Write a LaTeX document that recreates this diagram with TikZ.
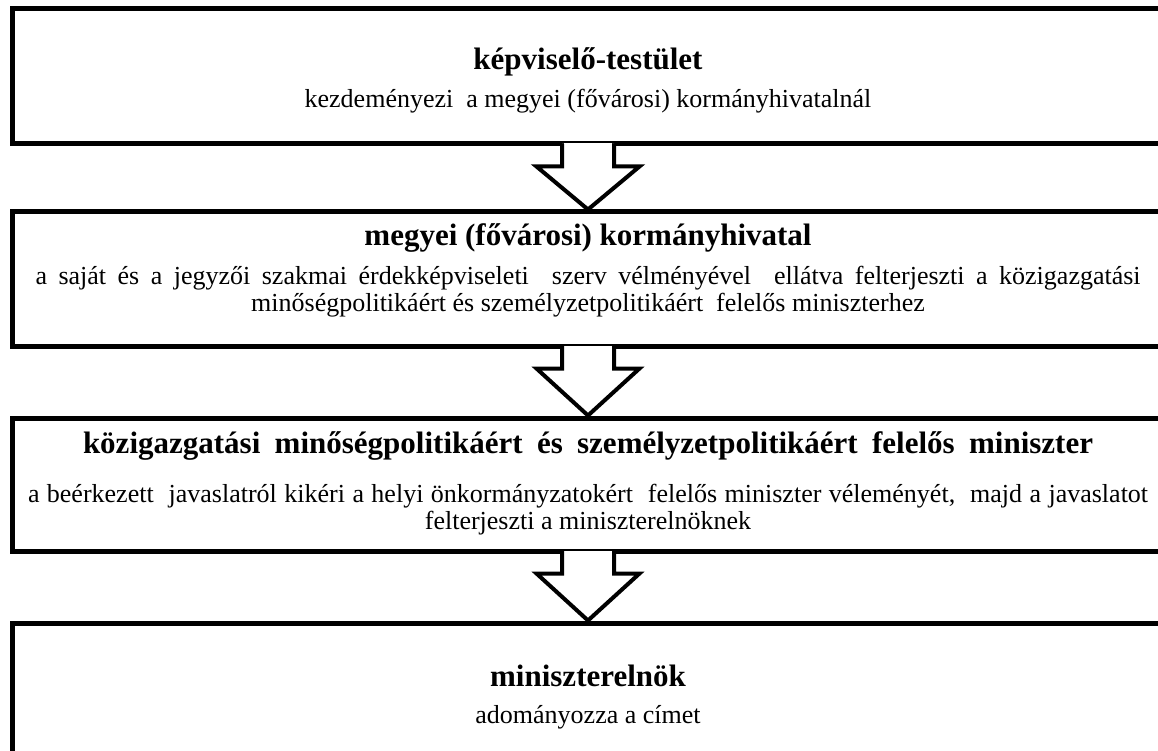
\documentclass[tikz,border=0pt]{standalone}
\usepackage{fontspec}
\setmainfont{Liberation Serif}
\usetikzlibrary{calc}

\tikzset{
  doboz/.style={draw, line width=5pt, minimum width=1152pt, inner sep=0pt},
  cim/.style={font=\bfseries\fontsize{31}{35}\selectfont, anchor=base},
  szoveg/.style={font=\fontsize{26}{27}\selectfont, align=center, anchor=base},
  nyil/.style={draw, line width=4pt, fill=white, line join=miter}
}

\begin{document}
\begin{tikzpicture}[x=1pt, y=-1pt]
\useasboundingbox (0,0) rectangle (1158,751);
\clip (0,0) rectangle (1158,751);

% Dobozok
\node[doboz, minimum height=135pt] (testulet) at (588,76.5) {};
\node[doboz, minimum height=134pt] (hivatal) at (588,279) {};
\node[doboz, minimum height=133pt] (miniszter) at (588,484.5) {};
\node[doboz, minimum height=140pt] (elnok) at (588,693) {};

% Nyilak
\foreach \a/\b in {testulet/hivatal, hivatal/miniszter, miniszter/elnok} {
  \fill[white] ($(\a.south)+(-24,-3)$) rectangle ($(\a.south)+(24,3)$);
  \draw[nyil] ($(\a.south)+(-26,-2.5)$) -- ($(\a.south)+(-26,20)$)
    -- ($(\a.south)+(-51.5,20)$) -- (\b.north)
    -- ($(\a.south)+(51.5,20)$) -- ($(\a.south)+(26,20)$)
    -- ($(\a.south)+(26,-2.5)$);
}

% Szovegek
\node[cim] (c1) at (588,70) {képviselő-testület};
\node[szoveg] (s1) at (588,108) {kezdeményezi\ \ a megyei (fővárosi) kormányhivatalnál};

\node[cim] (c2) at (588,245) {megyei (fővárosi) kormányhivatal};
\node[szoveg] (s2) at (588,311) {\makebox[1105pt][s]{a saját és a jegyzői szakmai érdekképviseleti\ \ szerv vélményével\ \ ellátva felterjeszti a közigazgatási}\\
  minőségpolitikáért és személyzetpolitikáért\ \ felelős miniszterhez};

\node[cim] (c3) at (588,453) {\makebox[1010pt][s]{közigazgatási minőségpolitikáért és személyzetpolitikáért felelős miniszter}};
\node[szoveg] (s3) at (588,529) {\makebox[1120pt][s]{a beérkezett\ \ javaslatról kikéri a helyi önkormányzatokért\ \ felelős miniszter véleményét,\ \ majd a javaslatot}\\
  felterjeszti a miniszterelnöknek};

\node[cim] (c4) at (588,686) {miniszterelnök};
\node[szoveg] (s4) at (588,723) {adományozza a címet};

\end{tikzpicture}
\end{document}
